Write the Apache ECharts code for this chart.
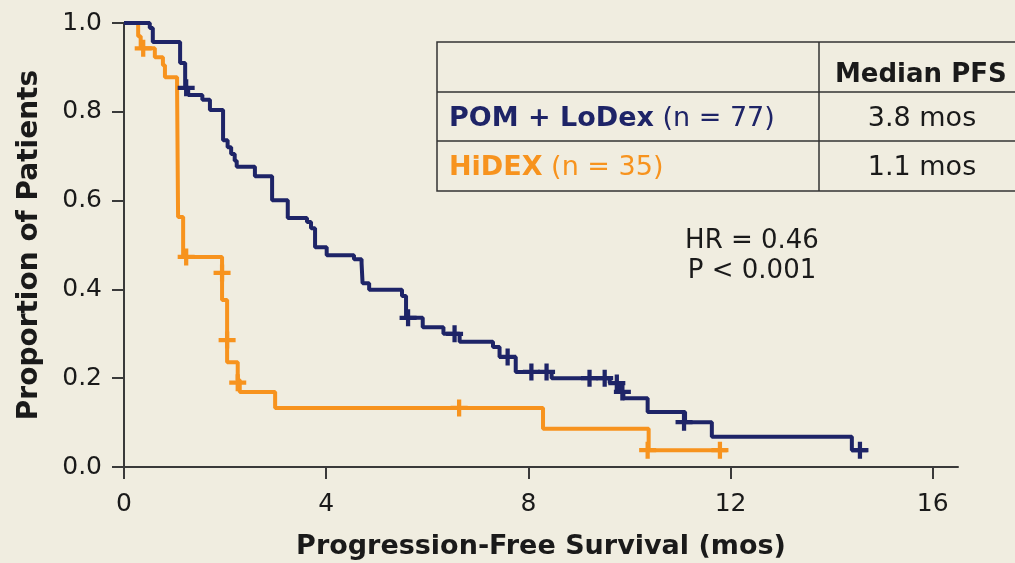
<!DOCTYPE html>
<html><head><meta charset="utf-8">
<script src="https://cdn.jsdelivr.net/npm/echarts@6/dist/echarts.min.js"></script>
<style>html,body{margin:0;padding:0;background:#F0EDE0;}#c{width:1015px;height:563px;}</style>
</head><body><div id="c"></div>
<script>
// ---- data ----
const xTicks = [0, 4, 8, 12, 16];
const yTicks = [0, 0.2, 0.4, 0.6, 0.8, 1.0];

const pomTimes = [0, 0.51, 0.57, 1.11, 1.21, 1.27, 1.55, 1.70, 1.96, 2.05, 2.12, 2.19, 2.23, 2.59, 2.93, 3.24, 3.62, 3.70, 3.78, 4.01, 4.55, 4.70, 4.72, 4.85, 5.50, 5.58, 5.91, 6.32, 6.64, 7.30, 7.43, 7.75, 8.46, 9.61, 9.80, 9.88, 10.36, 11.10, 11.63, 14.40, 14.71];
const pomSurv  = [1.0, 0.989, 0.957, 0.910, 0.854, 0.838, 0.827, 0.804, 0.736, 0.720, 0.705, 0.690, 0.676, 0.655, 0.601, 0.561, 0.552, 0.538, 0.495, 0.477, 0.468, 0.459, 0.414, 0.399, 0.385, 0.336, 0.315, 0.300, 0.282, 0.270, 0.248, 0.214, 0.200, 0.189, 0.169, 0.155, 0.124, 0.101, 0.068, 0.038, 0.038];
const pomCensorT = [1.23, 5.62, 6.54, 7.59, 8.06, 8.36, 9.21, 9.51, 9.75, 9.86, 11.08, 14.56];
const pomCensorS = [0.854, 0.336, 0.300, 0.248, 0.214, 0.214, 0.200, 0.200, 0.189, 0.169, 0.101, 0.038];

const hiTimes = [0, 0.28, 0.33, 0.61, 0.77, 0.81, 1.05, 1.07, 1.17, 1.94, 2.04, 2.25, 2.29, 2.99, 8.29, 10.38, 11.93];
const hiSurv  = [1.0, 0.970, 0.943, 0.923, 0.905, 0.878, 0.856, 0.563, 0.473, 0.376, 0.236, 0.196, 0.169, 0.133, 0.086, 0.038, 0.038];
const hiCensorT = [0.38, 1.23, 1.94, 2.04, 2.25, 6.63, 10.36, 11.79];
const hiCensorS = [0.943, 0.473, 0.437, 0.286, 0.190, 0.133, 0.038, 0.038];

const tableHeader = 'Median PFS';
const rowNames = ['POM + LoDex', 'HiDEX'];
const rowN = ['(n = 77)', '(n = 35)'];
const rowMedian = ['3.8 mos', '1.1 mos'];
const stats = ['HR = 0.46', 'P < 0.001'];

// ---- styles ----
const NAVY = '#1E2467';
const ORANGE = '#F7931E';
const TEXT = '#1a1a1a';
const AXIS = '#3a3a3a';
const FONT = 'DejaVu Sans';
const plus = 'path://M-2,-8H2V-2H8V2H2V8H-2V2H-8V-2H-2Z';

const zip = (a, b) => a.map((v, i) => [v, b[i]]);

const chart = echarts.init(document.getElementById('c'), null, {renderer: 'canvas'});

const tblL = 437, tblT = 42, tblR = 1030, colX = 819, rowY = [92, 141, 191];
const F27 = '27px "DejaVu Sans"', B27 = 'bold 27px "DejaVu Sans"';

const graphics = [
  {type: 'rect', shape: {x: tblL, y: tblT, width: tblR - tblL, height: rowY[2] - tblT}, style: {fill: 'none', stroke: '#333', lineWidth: 1.5}, z: 10},
  {type: 'line', shape: {x1: tblL, y1: rowY[0], x2: tblR, y2: rowY[0]}, style: {stroke: '#333', lineWidth: 1.5}, z: 10},
  {type: 'line', shape: {x1: tblL, y1: rowY[1], x2: tblR, y2: rowY[1]}, style: {stroke: '#333', lineWidth: 1.5}, z: 10},
  {type: 'line', shape: {x1: colX, y1: tblT, x2: colX, y2: rowY[2]}, style: {stroke: '#333', lineWidth: 1.5}, z: 10},
  {type: 'text', x: 835, y: 75, style: {text: tableHeader, font: 'bold 26px "DejaVu Sans"', fill: TEXT, textVerticalAlign: 'middle'}, z: 11},
  {type: 'text', x: 449, y: 119, style: {text: '{b|' + rowNames[0] + '}{r| ' + rowN[0] + '}', textVerticalAlign: 'middle',
     rich: {b: {font: B27, fill: NAVY}, r: {font: F27, fill: NAVY}}}, z: 11},
  {type: 'text', x: 449, y: 168, style: {text: '{b|' + rowNames[1] + '}{r| ' + rowN[1] + '}', textVerticalAlign: 'middle',
     rich: {b: {font: B27, fill: ORANGE}, r: {font: F27, fill: ORANGE}}}, z: 11},
  {type: 'text', x: 922, y: 119, style: {text: rowMedian[0], font: F27, fill: TEXT, textAlign: 'center', textVerticalAlign: 'middle'}, z: 11},
  {type: 'text', x: 922, y: 168, style: {text: rowMedian[1], font: F27, fill: TEXT, textAlign: 'center', textVerticalAlign: 'middle'}, z: 11},
  {type: 'text', x: 752, y: 241, style: {text: stats[0], font: '26px "DejaVu Sans"', fill: TEXT, textAlign: 'center', textVerticalAlign: 'middle'}, z: 11},
  {type: 'text', x: 752, y: 271, style: {text: stats[1], font: '26px "DejaVu Sans"', fill: TEXT, textAlign: 'center', textVerticalAlign: 'middle'}, z: 11}
];

chart.setOption({
  backgroundColor: '#F0EDE0',
  animation: false,
  grid: {left: 124, top: 23, right: 57, bottom: 96, containLabel: false, outerBoundsMode: 'none'},
  xAxis: {
    type: 'value', min: 0, max: 16.5, interval: 4,
    name: 'Progression-Free Survival (mos)', nameLocation: 'middle', nameGap: 66,
    nameTextStyle: {fontFamily: FONT, fontWeight: 'bold', fontSize: 27, color: TEXT},
    axisLine: {lineStyle: {color: AXIS, width: 2}},
    axisTick: {show: true, length: 12, lineStyle: {color: AXIS, width: 2}, customValues: xTicks},
    axisLabel: {fontFamily: FONT, fontSize: 25, color: TEXT, margin: 25, customValues: xTicks},
    splitLine: {show: false}
  },
  yAxis: {
    type: 'value', min: 0, max: 1.0, interval: 0.2,
    name: 'Proportion of Patients', nameLocation: 'middle', nameGap: 80, nameRotate: 90,
    nameTextStyle: {fontFamily: FONT, fontWeight: 'bold', fontSize: 28, color: TEXT},
    axisLine: {show: true, lineStyle: {color: AXIS, width: 2}},
    axisTick: {show: true, length: 12, lineStyle: {color: AXIS, width: 2}, customValues: yTicks},
    axisLabel: {fontFamily: FONT, fontSize: 25, color: TEXT, margin: 22, customValues: yTicks, formatter: v => v.toFixed(1)},
    splitLine: {show: false}
  },
  series: [
    {type: 'line', step: 'end', data: zip(hiTimes, hiSurv), showSymbol: false, lineStyle: {color: ORANGE, width: 4}, z: 3},
    {type: 'scatter', data: zip(hiCensorT, hiCensorS), symbol: plus, symbolSize: 17, itemStyle: {color: ORANGE, opacity: 1}, z: 4},
    {type: 'line', step: 'end', data: zip(pomTimes, pomSurv), showSymbol: false, lineStyle: {color: NAVY, width: 4}, z: 5},
    {type: 'scatter', data: zip(pomCensorT, pomCensorS), symbol: plus, symbolSize: 17, itemStyle: {color: NAVY, opacity: 1}, z: 6}
  ],
  graphic: graphics
});
</script></body></html>
